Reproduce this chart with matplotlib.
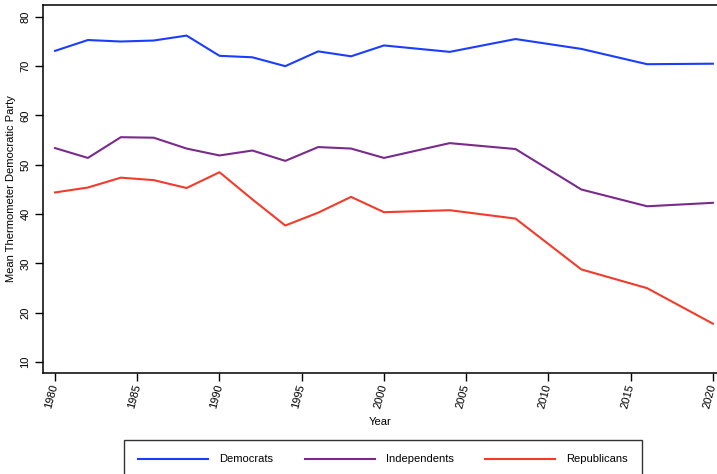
import matplotlib
matplotlib.use("Agg")
import matplotlib.pyplot as plt

plt.rcParams["font.family"] = ["Liberation Sans", "DejaVu Sans"]

years = [1980, 1982, 1984, 1986, 1988, 1990, 1992, 1994, 1996, 1998,
         2000, 2004, 2008, 2012, 2016, 2020]
democrats = [73.1, 75.3, 75.0, 75.2, 76.2, 72.1, 71.8, 70.0, 73.0, 72.0,
             74.2, 72.9, 75.5, 73.5, 70.4, 70.5]
independents = [53.4, 51.4, 55.6, 55.5, 53.3, 51.9, 52.9, 50.8, 53.6, 53.3,
                51.4, 54.4, 53.2, 45.0, 41.6, 42.3]
republicans = [44.4, 45.4, 47.4, 46.9, 45.3, 48.5, 43.0, 37.7, 40.3, 43.5,
               40.4, 40.8, 39.1, 28.8, 25.0, 17.8]

series_names = ["Democrats", "Independents", "Republicans"]
series_colors = ["#1a3dff", "#7a2a8c", "#f23b2b"]
x_ticks = list(range(1980, 2021, 5))
y_ticks = list(range(10, 81, 10))

W, H = 717, 474
fig = plt.figure(figsize=(W / 100, H / 100), dpi=100)
ax = fig.add_axes([43 / W, 1 - 373 / H, (W - 43) / W, (373 - 5) / H])

for vals, name, col in zip([democrats, independents, republicans],
                           series_names, series_colors):
    ax.plot(years, vals, color=col, lw=1.5, label=name)

ax.set_xlim(1979.27, 2020.25)
ax.set_ylim(7.8, 82.4)
ax.set_xticks(x_ticks)
ax.set_yticks(y_ticks)
ax.set_xticklabels([str(t) for t in x_ticks], rotation=75, ha="right",
                   va="center", rotation_mode="anchor", fontsize=8)
ax.set_yticklabels([str(t) for t in y_ticks], rotation=90, va="center",
                   fontsize=8)
ax.tick_params(axis="x", direction="out", length=5.5, width=1, pad=3)
ax.tick_params(axis="y", direction="out", length=6, width=1, pad=3)
for side in ["left", "top", "bottom"]:
    ax.spines[side].set_linewidth(1.1)
ax.spines["right"].set_visible(False)

ax.set_xlabel("Year", fontsize=8, labelpad=5)
ax.set_ylabel("Mean Thermometer Democratic Party", fontsize=8, labelpad=3)

leg = fig.legend(loc="upper left", bbox_to_anchor=(124 / W, 1 - 440 / H),
                 ncol=3, fontsize=8, frameon=True, fancybox=False,
                 handlelength=6.3, handletextpad=1.0, columnspacing=2.8,
                 borderpad=1.3, borderaxespad=0)
leg.get_frame().set_edgecolor("black")
leg.get_frame().set_linewidth(1.0)

fig.savefig("out.png", dpi=100)
